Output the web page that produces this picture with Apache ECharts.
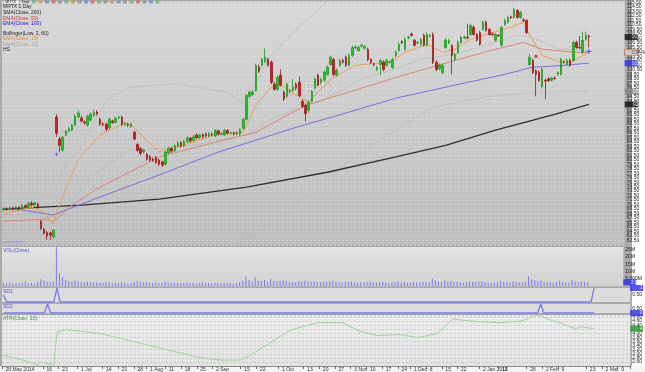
<!DOCTYPE html>
<html><head><meta charset="utf-8">
<script src="https://cdn.jsdelivr.net/npm/echarts/dist/echarts.min.js"></script>
<style>html,body{margin:0;padding:0;background:#fff}#c{width:645px;height:372px}</style>
</head><body><div id="c"></div><script>
// ---------- data ----------
const ticker = 'MRTX';
const holidays = ['2014-07-04','2014-09-01','2014-11-27','2014-12-25','2015-01-01','2015-01-19','2015-02-16'];
const monthNames = ['Jan','Feb','Mar','Apr','May','Jun','Jul','Aug','Sep','Oct','Nov','Dec'];
// [open, close, low, high]
const ohlc = [
[69.3,69.6,69.0,69.9],[69.6,69.4,69.1,69.9],[69.4,69.8,69.2,70.1],[69.8,69.5,69.2,70.0],[69.5,69.9,69.3,70.2],
[69.9,69.5,69.2,70.1],[69.5,70.3,69.3,70.6],[70.3,70.0,69.7,70.5],[70.0,70.8,69.8,71.2],[70.8,70.4,70.1,71.3],
[70.4,70.9,70.2,71.1],[70.6,69.9,69.6,70.9],[66.8,65.2,64.9,67.1],[65.0,64.1,63.8,65.3],[64.3,63.5,62.7,64.6],
[64.2,63.7,62.6,64.5],[63.3,64.8,63.0,65.0],[90.0,86.4,85.6,90.6],[85.1,83.7,82.2,85.6],[82.6,85.5,82.3,85.8],
[86.0,86.8,85.8,87.1],[86.9,87.4,86.6,87.8],[87.1,88.2,86.9,88.5],[88.2,90.2,88.0,90.6],[90.0,90.9,89.7,91.5],
[89.8,89.1,88.8,90.3],[88.9,88.7,88.3,89.2],[88.2,90.2,87.9,90.5],[89.3,90.6,89.0,91.0],[90.4,91.0,90.0,91.6],
[91.1,90.7,90.3,91.5],[89.5,88.4,88.0,89.9],[88.5,88.3,87.9,88.8],[88.4,87.3,86.8,88.7],[87.6,89.5,87.2,89.8],
[89.1,88.8,88.5,89.4],[88.8,89.7,88.5,90.0],[89.8,90.0,89.5,90.3],[90.0,88.4,88.0,90.3],[88.4,88.6,88.1,88.9],
[88.4,88.2,87.8,88.7],[87.9,88.4,87.6,88.7],[86.6,85.1,84.8,86.9],[83.9,82.6,82.2,84.2],[83.0,81.9,81.5,83.3],
[82.3,82.6,81.9,83.0],[81.7,80.6,80.3,82.0],[81.2,80.4,80.0,81.5],[80.6,80.4,80.0,81.0],[81.0,79.9,79.5,81.3],
[80.4,79.5,79.1,80.7],[80.0,79.3,78.9,80.3],[79.5,82.2,79.2,82.5],[82.0,83.0,81.7,83.4],[83.0,82.4,82.0,83.4],
[82.5,83.6,82.2,83.9],[83.5,84.2,83.2,84.6],[84.3,83.6,83.2,84.6],[83.6,84.5,83.3,84.9],[84.5,85.3,84.2,85.7],
[85.3,84.7,84.3,85.6],[84.8,85.6,84.5,86.0],[86.0,85.4,85.0,86.4],[85.4,86.0,85.1,86.3],[86.1,85.6,85.2,86.4],
[86.2,85.8,85.4,86.6],[85.8,86.3,85.5,86.6],[86.2,86.0,85.7,86.5],[85.8,87.0,85.5,87.3],[86.9,86.2,85.9,87.2],
[86.2,86.3,85.9,86.6],[86.0,87.0,85.8,87.3],[87.0,86.4,86.1,87.3],[86.4,86.5,86.1,86.8],[86.5,86.2,85.9,86.7],
[86.2,86.5,85.9,86.8],[86.2,87.2,85.8,87.5],[87.5,89.5,87.2,89.8],[89.5,94.8,89.2,95.1],[94.6,95.5,94.2,95.9],
[95.0,95.5,94.7,96.0],[95.9,101.5,95.6,101.9],[101.1,100.2,99.8,101.7],[101.5,102.8,101.2,103.2],[102.4,103.3,102.0,105.3],
[102.8,101.5,101.2,103.2],[102.2,97.7,97.3,102.6],[97.3,96.2,95.8,97.8],[96.2,98.8,95.8,99.2],[99.3,97.1,96.8,100.6],
[95.5,94.0,93.6,95.9],[94.6,97.3,94.2,97.7],[95.7,95.9,95.2,96.3],[95.9,96.6,95.5,98.5],[97.3,96.4,96.0,97.7],
[97.7,94.8,94.4,99.0],[93.5,92.4,92.0,93.9],[92.6,90.8,89.0,93.0],[91.5,93.3,91.0,93.7],[93.5,95.7,93.2,96.0],
[96.5,98.4,96.2,98.8],[99.3,97.1,96.8,99.7],[97.7,98.4,97.3,98.8],[98.2,100.0,97.9,100.4],[99.5,101.1,99.2,101.5],
[101.7,103.3,101.4,103.7],[102.8,99.5,99.1,103.2],[99.3,100.4,99.0,100.8],[101.5,102.6,101.2,103.0],[102.6,102.2,101.9,103.0],
[103.3,101.5,101.1,103.7],[101.5,103.7,101.2,104.1],[103.7,105.5,103.4,105.9],[105.4,105.6,105.1,106.0],[104.8,105.5,104.5,105.9],
[105.8,106.0,105.4,106.3],[105.3,105.7,105.0,106.0],[105.1,102.8,102.4,105.4],[102.8,102.2,101.8,103.1],[101.8,101.7,101.3,102.1],
[100.6,101.0,100.2,101.4],[101.7,102.6,99.3,102.9],[102.2,100.6,100.2,102.6],[101.5,102.6,101.2,103.0],[102.2,102.3,101.9,102.6],
[101.0,102.8,100.7,103.2],[103.7,104.4,103.3,104.8],[104.8,106.2,104.5,106.6],[106.8,106.5,106.2,107.1],[105.1,107.3,104.8,107.7],
[107.6,107.8,107.3,108.1],[108.5,108.2,107.9,108.8],[107.1,106.0,105.7,107.4],[106.5,106.6,106.2,106.9],[106.2,107.3,105.9,107.6],
[108.2,106.0,105.7,108.6],[106.0,108.4,105.7,108.8],[108.0,108.2,107.7,108.5],[108.4,102.2,101.8,108.8],[102.2,100.6,100.2,102.6],
[100.8,101.5,100.4,101.9],[99.9,101.5,99.5,101.9],[105.5,107.1,105.2,107.5],[106.5,107.0,106.2,107.4],[105.9,103.7,99.5,106.2],
[102.8,103.9,102.4,104.3],[104.4,106.6,104.1,107.0],[106.6,107.7,106.3,108.1],[107.6,107.8,107.3,108.1],[107.8,107.6,107.3,110.8],
[108.4,110.4,108.1,110.8],[110.0,108.4,108.1,110.4],[108.4,107.1,106.8,108.7],[108.8,106.2,105.9,109.2],[109.5,111.1,109.2,111.5],
[111.1,109.3,109.0,111.5],[109.5,108.4,108.1,109.8],[108.5,108.4,108.0,108.8],[107.1,108.4,106.8,108.7],[108.2,108.1,107.8,108.5],
[106.0,109.9,105.7,110.3],[110.6,111.5,110.3,111.9],[111.1,112.2,110.8,112.6],[112.3,112.1,111.8,112.6],[112.2,113.9,111.9,114.3],
[113.7,112.2,111.9,114.0],[112.2,113.3,111.9,113.6],[111.6,111.5,111.1,112.0],[111.5,108.8,108.5,111.8],[101.7,103.3,101.4,104.0],
[102.6,99.9,99.5,103.0],[100.3,99.5,94.6,100.6],[100.0,98.2,97.8,100.4],[96.8,100.6,96.4,101.0],[98.2,98.0,94.0,98.5],
[98.5,98.1,97.8,98.8],[98.2,98.6,97.9,98.9],[98.7,98.6,98.3,99.0],[99.5,99.9,99.2,100.2],[99.5,102.8,99.2,103.2],
[102.3,102.2,101.9,102.6],[101.7,102.6,101.4,103.0],[102.6,101.5,101.2,103.0],[102.6,106.6,102.3,107.0],[106.6,105.5,105.2,107.0],
[105.5,105.4,105.1,108.0],[104.4,107.1,104.1,109.0],[107.3,108.2,107.0,109.0],[108.0,107.8,105.5,108.4]
];
// volume, millions
const volume = [
2.1,1.8,2.5,1.6,2.0,1.9,2.2,3.4,2.0,2.4,1.8,2.6,4.6,3.8,3.0,2.8,3.2,
27.5,
8.8,6.0,4.4,3.5,3.1,4.0,3.2,2.7,2.4,3.0,2.6,2.2,2.5,
2.3,2.0,2.6,2.4,1.9,2.2,2.0,2.7,2.1,1.8,2.0,3.0,3.6,2.9,2.4,2.6,2.2,2.0,2.5,2.3,
2.1,3.1,2.6,2.2,2.4,2.0,1.9,2.3,2.5,2.1,2.2,1.8,2.0,2.4,1.9,2.1,1.7,2.3,2.0,1.8,2.1,2.2,1.9,1.7,2.0,2.6,
3.8,6.5,4.2,3.3,6.0,3.6,3.4,4.1,3.0,4.8,3.5,3.2,3.6,3.9,3.4,2.6,2.8,2.5,3.5,3.1,3.7,
3.0,3.2,3.4,3.0,2.6,2.9,3.1,3.3,3.6,2.8,2.7,2.4,2.9,3.0,3.2,2.5,2.3,2.6,2.2,3.0,2.7,2.4,2.3,2.8,2.9,2.5,2.1,2.6,2.7,3.0,2.4,2.8,2.3,2.2,2.6,2.4,2.5,2.9,2.7,2.4,
5.2,3.8,3.0,2.8,4.0,2.7,3.4,3.0,2.9,2.6,2.3,2.8,3.2,2.9,2.7,3.1,3.3,2.8,2.5,2.2,2.6,2.4,3.5,3.0,2.9,2.4,3.1,2.8,2.6,2.4,3.2,
6.8,4.6,4.0,3.5,3.8,3.0,2.7,2.5,2.2,2.6,3.6,2.8,2.4,2.5,4.2,3.1,2.7,3.3,2.9,2.6
];
// indicator readings: [bar index, value]
const sma200 = [[0,69.5],[25,70.4],[50,71.7],[78,74.4],[104,77.7],[126,81.1],[142,83.7],[158,87.1],[177,90.6],[188,92.8]];
const ema100 = [[0,69.6],[6,69.3],[14,68.4],[16,68.2],[31,72.2],[50,77.1],[69,82.2],[94,87.7],[111,91.1],[126,94.2],[145,97.1],[161,99.5],[170,101.1],[180,101.5],[188,102.0]];
const ema50 = [[0,66.8],[14,67.3],[16,66.6],[22,70.4],[31,74.4],[50,81.1],[62,83.3],[81,86.6],[97,92.6],[113,96.0],[126,98.8],[145,102.6],[158,105.1],[167,106.6],[173,105.1],[184,104.4],[188,104.4]];
const ema15 = [[0,68.4],[9,69.9],[13,68.8],[16,66.2],[17,68.7],[20,74.0],[24,80.5],[31,86.0],[38,88.4],[41,88.2],[50,82.2],[59,84.0],[69,86.2],[77,86.6],[81,92.6],[86,96.6],[89,97.1],[98,93.3],[105,98.4],[113,101.5],[124,102.2],[129,104.4],[136,106.2],[141,104.4],[145,105.1],[150,107.3],[163,110.0],[167,111.1],[169,108.2],[173,103.7],[179,102.2],[182,102.2],[188,104.4]];
const ema30 = [[0,68.2],[13,68.5],[16,67.5],[20,70.0],[30,77.5],[40,82.5],[50,83.0],[60,83.5],[70,85.0],[78,86.0],[86,89.5],[95,92.0],[105,94.5],[115,98.5],[125,100.5],[135,103.0],[145,104.0],[155,106.0],[165,108.3],[170,107.7],[178,105.2],[188,104.8]];
const bollUpper = [[0,76.6],[13,72.2],[16,72.2],[20,79.3],[24,82.2],[33,93.7],[40,96.5],[55,97.5],[72,95.5],[77,93.0],[80,96.0],[85,103.0],[95,110.0],[105,116.5],[188,118.0]];
const bollLower = [[72,61.5],[80,63.5],[90,68.5],[104,76.6],[120,84.5],[138,92.2],[155,94.5],[170,95.5],[188,95.7]];
const sd1 = [[0,0.5],[1,0],[16,0],[17,1],[18,0],[187,0],[188,1]];
const sd2 = [[0,0],[13,0],[14,1],[15,0],[170,0],[171,1],[172,0],[188,0]];
const atr = [[0,2.93],[6,2.69],[11,2.45],[12,2.59],[16,2.45],[17,4.08],[20,4.18],[31,3.99],[40,3.65],[50,3.27],[62,2.83],[69,2.69],[75,2.69],[78,2.88],[81,3.17],[86,3.65],[91,4.13],[94,4.28],[100,4.52],[108,4.52],[113,4.13],[119,3.89],[126,3.94],[132,3.79],[138,3.99],[143,4.71],[148,4.61],[158,4.52],[165,4.61],[170,4.90],[173,4.71],[177,4.52],[182,4.23],[184,4.32],[188,4.23]];
const starMarks = [[17,81.7]];
const redMarks = [[171,103.5]];
const plusMarks = [[188,104.6]];
const legendLines = [
  {t:'SMA(Close, 200)',c:'#222'},{t:'EMA(Close, 50)',c:'#d03030'},{t:'EMA(Close, 100)',c:'#2020d0'},{t:'',c:'#000'},
  {t:'Bollinger(Low, 2, 60)',c:'#222'},{t:'EMA(Close, 15)',c:'#e08a30'},{t:'EMA(Close, 30)',c:'#a8a8a8'},{t:'HS',c:'#222'}
];
const NCAT = 200;

// ---------- categories ----------
const dates = [];
{ let d = new Date(Date.UTC(2014,4,28));
  while (dates.length < NCAT) {
    const wd = d.getUTCDay(), s = d.toISOString().slice(0,10);
    if (wd!==0 && wd!==6 && holidays.indexOf(s)<0) dates.push(s);
    d.setUTCDate(d.getUTCDate()+1);
  } }
const monthStart = dates.map((s,i)=> i>0 && s.slice(5,7)!==dates[i-1].slice(5,7));
const tickLabels = dates.map((s,i)=>{
  const dt=new Date(s+'T00:00:00Z'), day=dt.getUTCDate(), m=dt.getUTCMonth(), y=dt.getUTCFullYear();
  if (i===0) return day+' '+monthNames[m]+' '+y;
  if (i<9) return '';
  if (monthStart[i]) return day+' '+monthNames[m]+(m===0?' '+y:'');
  if (dt.getUTCDay()===1) {
    for (let k=i-4;k<=i+3;k++) if (k>=0&&k<NCAT&&monthStart[k]) return '';
    return ''+day;
  }
  return '';
});

// ---------- chart ----------
const chart = echarts.init(document.getElementById('c'));
const FONT = 'Liberation Sans';
const grids = [
  {top:1,height:244, bg:new echarts.graphic.LinearGradient(0,0,0,1,[{offset:0,color:'#d8d8d8'},{offset:1,color:'#bdbdbd'}])},
  {top:247,height:39, bg:new echarts.graphic.LinearGradient(0,0,0,1,[{offset:0,color:'#e2e2e2'},{offset:1,color:'#d2d2d2'}])},
  {top:288,height:14, bg:'#dcdcdc'},
  {top:304,height:9, bg:'#dcdcdc'},
  {top:315,height:51, bg:new echarts.graphic.LinearGradient(0,0,0,1,[{offset:0,color:'#ececec'},{offset:1,color:'#e2e2e2'}])}
];
const lastClose = ohlc[ohlc.length-1][1];
const last = a => a[a.length-1][1];

function xAx(gi, showLabels){
  return {type:'category', gridIndex:gi, data:dates, boundaryGap:true,
    axisLine:{show:showLabels, lineStyle:{color:'#888'}},
    axisTick:{show:showLabels, interval:(i)=>tickLabels[i]!=='', length:3, lineStyle:{color:'#666'}},
    axisLabel:{show:showLabels, interval:(i)=>tickLabels[i]!=='', formatter:(v,i)=>tickLabels[i], fontSize:5, color:'#333', fontFamily:FONT, align:'left', margin:1, padding:[0,0,0,2]},
    splitLine:{show:false}};
}
function yAx(gi, o){
  return Object.assign({type:'value', gridIndex:gi, position:'right', scale:true,
    axisLine:{show:false}, axisTick:{show:false},
    axisLabel:{fontSize:5, color:'#222', fontFamily:FONT, margin:2},
    splitLine:{show:true, lineStyle:{color:'rgba(235,235,235,0.35)', type:[2,2], width:1}}}, o);
}
function tag(gi, xi, yi, val, bg, border, fg, txt){
  return {type:'scatter', xAxisIndex:xi, yAxisIndex:yi, clip:false, z:20, silent:true,
    symbol:'rect', symbolSize:[13,6], symbolOffset:[8,0],
    itemStyle:{color:bg, borderColor:border, borderWidth:border?1:0},
    label:{show:true, position:'inside', offset:[8,0], formatter:()=>txt, fontSize:5, color:fg, fontFamily:FONT},
    data:[[NCAT-1, val]]};
}
function lineS(data, color, width, type, z){
  return {type:'line', xAxisIndex:0, yAxisIndex:0, data, symbol:'none', silent:true, z:z||3,
    lineStyle:{color, width, type:type||'solid'}};
}

const graphics = [];
graphics.push({type:'rect', left:632, top:0, shape:{width:13, height:372}, style:{fill:'#ffffff'}, z:-10, silent:true});
graphics.push({type:'rect', left:0, top:366, shape:{width:645, height:6}, style:{fill:'#f4f4f4'}, z:-9, silent:true});
// toolbar row
graphics.push({type:'rect', left:3, top:0, shape:{width:16, height:4}, style:{fill:'#f8f8f8', stroke:'#888', lineWidth:0.5}, z:30});
graphics.push({type:'text', left:5, top:0, style:{text:ticker, font:'4px '+FONT, fill:'#222'}, z:31});
graphics.push({type:'text', left:22, top:0, style:{text:'Day', font:'4px '+FONT, fill:'#222'}, z:31});
const iconCols = ['#6a8','#c84','#58c','#c55','#888','#6a6','#c84','#888','#58c','#c55','#6a6','#888','#c84','#58c','#888','#6a6','#c55','#888','#58c','#6a6'];
iconCols.forEach((c,i)=>graphics.push({type:'rect', left:32+i*6.5, top:0.5, shape:{width:4, height:3}, style:{fill:c, opacity:0.7}, z:30}));
// legend
graphics.push({type:'text', left:3, top:4, style:{text:ticker+' 1 Day', font:'5px '+FONT, fill:'#222'}, z:30});
legendLines.forEach((l,i)=>{ if(l.t) graphics.push({type:'text', left:3, top:10.5+i*5.2, style:{text:l.t, font:'5px '+FONT, fill:l.c}, z:30}); });
// watermark
graphics.push({type:'text', left:287, top:80, style:{text:ticker, font:'bold 19px '+FONT, fill:'rgba(235,235,235,0.35)', stroke:'rgba(140,140,140,0.35)', lineWidth:0.7}, z:1, silent:true});
graphics.push({type:'text', left:313, top:96, style:{text:'tradingcourt', font:'6px '+FONT, fill:'rgba(235,235,235,0.45)'}, z:1, silent:true});
graphics.push({type:'text', left:3, top:240, style:{text:'sparsa.com', font:'4px '+FONT, fill:'rgba(110,140,220,0.8)'}, z:30});
// panel titles
graphics.push({type:'text', left:3, top:248, style:{text:'VOL(Close)', font:'5px '+FONT, fill:'#5050d0'}, z:30});
graphics.push({type:'text', left:3, top:289, style:{text:'SD1', font:'5px '+FONT, fill:'#5050d0'}, z:30});
graphics.push({type:'text', left:3, top:304.5, style:{text:'SD2', font:'5px '+FONT, fill:'#5050d0'}, z:30});
graphics.push({type:'text', left:3, top:316, style:{text:'ATR(Close, 20)', font:'5px '+FONT, fill:'#3a9a3a'}, z:30});

const option = {
  animation:false,
  backgroundColor:'#a9a9a9',
  textStyle:{fontFamily:FONT},
  grid: grids.map(g=>({left:2,right:13,top:g.top,height:g.height,show:true,backgroundColor:g.bg,borderWidth:0})),
  xAxis:[xAx(0,false),xAx(1,false),xAx(2,false),xAx(3,false),xAx(4,true)],
  yAxis:[
    yAx(0,{min:61.5,max:115.7,interval:1,scale:false, axisLabel:{fontSize:5,color:'#222',fontFamily:FONT,margin:2,formatter:v=>v.toFixed(2)}}),
    yAx(1,{min:0,max:27,interval:5,scale:false, axisLabel:{fontSize:5,color:'#222',fontFamily:FONT,margin:2,showMinLabel:false,formatter:v=>v===5?'5.000M':v+'M'}}),
    yAx(2,{min:0,max:1,interval:0.5,scale:false, splitLine:{show:false}, axisLabel:{fontSize:5,color:'#222',fontFamily:FONT,margin:2,showMinLabel:false,showMaxLabel:false,formatter:v=>v.toFixed(2)}}),
    yAx(3,{min:0,max:1,interval:0.5,scale:false, splitLine:{show:false}, axisLabel:{fontSize:5,color:'#222',fontFamily:FONT,margin:2,showMinLabel:false,showMaxLabel:false,formatter:v=>v.toFixed(2)}}),
    yAx(4,{min:2.4,max:4.9,interval:0.2,scale:false, splitLine:{show:true,lineStyle:{color:'rgba(170,170,170,0.5)',type:[2,2],width:1}}, axisLabel:{fontSize:5,color:'#222',fontFamily:FONT,margin:2,formatter:v=>v.toFixed(2)}})
  ],
  graphic: graphics,
  series:[
    lineS(bollUpper,'#bdbdbd',0.8,'solid',2),
    lineS(bollLower,'#bdbdbd',0.8,'solid',2),
    lineS(ema30,'#b0b0b0',1,[1.5,1.5],3),
    lineS(sma200,'#2e2e2e',1.3,'solid',4),
    lineS(ema100,'#7272dc',1,'solid',4),
    lineS(ema50,'#d88878',1,'solid',4),
    lineS(ema15,'#eda050',1,'solid',5),
    {type:'candlestick', xAxisIndex:0, yAxisIndex:0, barWidth:2, z:6, silent:true,
      itemStyle:{color:'#22c322', color0:'#cc1f1f', borderColor:'#229a22', borderColor0:'#9a1a1a', borderWidth:0.8},
      data: ohlc},
    {type:'scatter', xAxisIndex:0, yAxisIndex:0, z:8, silent:true, symbol:'path://M0,-5L1,-1L5,0L1,1L0,5L-1,1L-5,0L-1,-1Z', symbolSize:5, itemStyle:{color:'#3a3af0'}, data:starMarks},
    {type:'scatter', xAxisIndex:0, yAxisIndex:0, z:8, silent:true, symbol:'rect', symbolSize:3, itemStyle:{color:'#d02020'}, data:redMarks},
    {type:'scatter', xAxisIndex:0, yAxisIndex:0, z:8, silent:true, symbol:'path://M-1,-5H1V-1H5V1H1V5H-1V1H-5V-1H-1Z', symbolSize:5, itemStyle:{color:'#3a3af0'}, data:plusMarks},
    {type:'bar', xAxisIndex:1, yAxisIndex:1, barWidth:1, z:3, silent:true, itemStyle:{color:'#7a7af0'}, data:volume},
    {type:'line', xAxisIndex:2, yAxisIndex:2, data:sd1, symbol:'none', silent:true, lineStyle:{color:'#7a7af0', width:1.3}},
    {type:'line', xAxisIndex:3, yAxisIndex:3, data:sd2, symbol:'none', silent:true, lineStyle:{color:'#7a7af0', width:1.3}},
    {type:'line', xAxisIndex:4, yAxisIndex:4, data:atr, symbol:'none', silent:true, lineStyle:{color:'#9fd39f', width:1}},
    tag(0,0,0,lastClose,'#111',null,'#fff',lastClose.toFixed(2)),
    tag(0,0,0,last(ema15),'#d8d8d8','#c07858','#333',last(ema15).toFixed(2)),
    tag(0,0,0,last(ema100),'#2a2af0',null,'#fff',last(ema100).toFixed(2)),
    tag(0,0,0,last(bollLower),'#8a8a8a',null,'#fff',last(bollLower).toFixed(2)),
    tag(0,0,0,last(sma200),'#111',null,'#fff',last(sma200).toFixed(2)),
    tag(1,1,1,volume[volume.length-1],'#2a2af0',null,'#fff',volume[volume.length-1].toFixed(2)+'M'),
    tag(2,2,2,last(sd1),'#2a2af0',null,'#fff',last(sd1).toFixed(2)),
    tag(3,3,3,last(sd2),'#2a2af0',null,'#fff',last(sd2).toFixed(2)),
    tag(4,4,4,last(atr),'#2a9a2a',null,'#fff',last(atr).toFixed(2))
  ]
};
chart.setOption(option);
</script></body></html>
